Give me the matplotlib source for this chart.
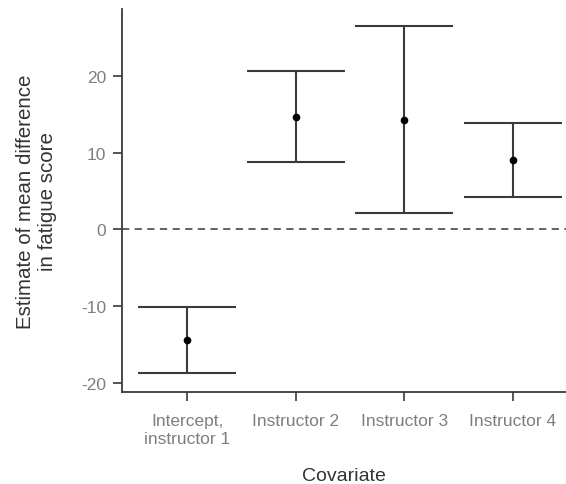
import matplotlib.pyplot as plt
import numpy as np


CATEGORIES = ["Intercept,\ninstructor 1", "Instructor 2", "Instructor 3", "Instructor 4"]
ESTIMATES = [-14.4, 14.7, 14.3, 9.05]
LOWER = [-18.8, 8.8, 2.1, 4.2]
UPPER = [-10.1, 20.6, 26.5, 13.9]
Y_TICKS = [-20, -10, 0, 10, 20]

LINE_COLOR = "#3a3a3a"
TICK_COLOR = "#7e7e7e"


def main():
    plt.rcParams["font.family"] = ["Liberation Sans", "DejaVu Sans"]
    plt.rcParams["axes.unicode_minus"] = False

    fig = plt.figure(figsize=(5.66, 4.85), dpi=100)
    ax = fig.add_axes([0.2155, 0.19, 0.7845, 0.789])

    x = np.arange(1, len(CATEGORIES) + 1)
    half = 0.45

    ax.axhline(0, color="#555555", linestyle=(0, (4, 3)), linewidth=1.3, zorder=1)
    ax.vlines(x, LOWER, UPPER, color=LINE_COLOR, linewidth=1.5, zorder=2)
    ax.hlines(LOWER, x - half, x + half, color=LINE_COLOR, linewidth=1.5, zorder=2)
    ax.hlines(UPPER, x - half, x + half, color=LINE_COLOR, linewidth=1.5, zorder=2)
    ax.plot(x, ESTIMATES, "o", color="black", markersize=4.5, zorder=3)

    ax.set_xlim(0.4, 4.49)
    ax.set_ylim(-21.2, 28.7)
    ax.set_xticks(x)
    ax.set_xticklabels(CATEGORIES)
    ax.set_yticks(Y_TICKS)

    for side in ("top", "right"):
        ax.spines[side].set_visible(False)
    for side in ("left", "bottom"):
        ax.spines[side].set_color(LINE_COLOR)
        ax.spines[side].set_linewidth(1.3)

    ax.tick_params(axis="both", direction="out", length=6.5, width=1.2,
                   color=LINE_COLOR, labelcolor=TICK_COLOR, labelsize=12.5)
    ax.tick_params(axis="x", pad=9)
    ax.tick_params(axis="y", pad=5)

    ax.set_xlabel("Covariate", fontsize=14, color="#333333", labelpad=15)
    ax.set_ylabel("Estimate of mean difference\nin fatigue score",
                  fontsize=14.8, color="#333333", labelpad=17, linespacing=1.25)

    fig.savefig("out.png", dpi=100)


if __name__ == "__main__":
    main()
